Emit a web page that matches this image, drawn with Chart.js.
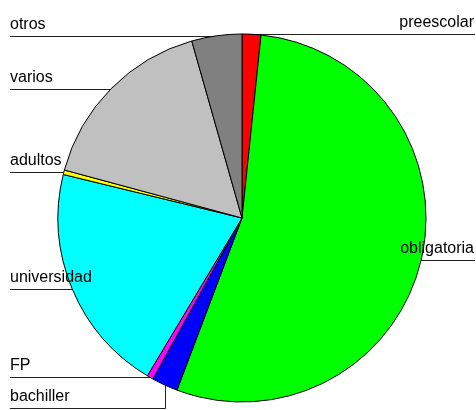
<!DOCTYPE html>
<html>
<head>
<meta charset="utf-8">
<script src="https://cdn.jsdelivr.net/npm/chart.js@4"></script>
<style>
  html, body { margin: 0; padding: 0; background: #fff; }
  canvas { display: block; }
</style>
</head>
<body>
<canvas id="pie" width="476" height="410"></canvas>
<script>
const categories = ['preescolar', 'obligatoria', 'bachiller', 'FP', 'universidad', 'adultos', 'varios', 'otros'];
const values = [1.65, 54.1, 2.3, 0.55, 20.2, 0.4, 16.4, 4.4];
const colors = ['#ff0000', '#00ff00', '#0000ff', '#ff00ff', '#00ffff', '#ffff00', '#c0c0c0', '#808080'];

// where each label sits: at the slice's mid angle, pushed down if it collides
function labelPositions(chart) {
    const arcs = chart.getDatasetMeta(0).data;
    const left = [], right = [];
    let cx = 0;
    arcs.forEach((arc, i) => {
        const p = arc.getProps(['x', 'y', 'startAngle', 'endAngle', 'outerRadius'], true);
        cx = p.x;
        const mid = (p.startAngle + p.endAngle) / 2;
        const ex = p.x + p.outerRadius * Math.cos(mid);
        const ey = p.y + p.outerRadius * Math.sin(mid);
        const item = { text: categories[i], ex: ex, ey: ey, y: ey };
        if (ex < p.x) left.push(item); else right.push(item);
    });
    [left, right].forEach(side => {
        side.sort((a, b) => a.ey - b.ey);
        for (let k = 1; k < side.length; k++) {
            if (side[k].y < side[k - 1].y + 31) side[k].y = side[k - 1].y + 31;
        }
    });
    return { left, right, cx };
}

// leader lines go under the pie, the text goes on top
const leaderLabels = {
    id: 'leaderLabels',
    beforeDatasetsDraw(chart) {
        const ctx = chart.ctx;
        const { left, right, cx } = labelPositions(chart);
        ctx.save();
        ctx.strokeStyle = '#222';
        ctx.lineWidth = 1;
        left.forEach(it => {
            const y = Math.round(it.y) + 0.5;
            const pushed = Math.abs(it.y - it.ey) > 1;
            const x = pushed ? Math.round(it.ex) + 0.5 : cx;
            ctx.beginPath();
            ctx.moveTo(10, y);
            ctx.lineTo(x, y);
            if (pushed) ctx.lineTo(x, it.ey - 4);
            ctx.stroke();
        });
        right.forEach(it => {
            const y = Math.round(it.y) + 0.5;
            const pushed = Math.abs(it.y - it.ey) > 1;
            const x = pushed ? Math.round(it.ex) + 0.5 : cx;
            ctx.beginPath();
            if (pushed) ctx.moveTo(x, it.ey - 4); else ctx.moveTo(x, y);
            ctx.lineTo(x, y);
            ctx.lineTo(475, y);
            ctx.stroke();
        });
        ctx.restore();
    },
    afterDatasetsDraw(chart) {
        const ctx = chart.ctx;
        const { left, right } = labelPositions(chart);
        ctx.save();
        ctx.fillStyle = '#000';
        ctx.font = '16px "Liberation Sans", Arial, sans-serif';
        ctx.textBaseline = 'alphabetic';
        ctx.textAlign = 'left';
        left.forEach(it => ctx.fillText(it.text, 10, Math.round(it.y) - 7));
        ctx.textAlign = 'right';
        right.forEach(it => ctx.fillText(it.text, 474, Math.round(it.y) - 7));
        ctx.restore();
    }
};

new Chart(document.getElementById('pie').getContext('2d'), {
    type: 'pie',
    data: {
        labels: categories,
        datasets: [{
            data: values,
            backgroundColor: colors,
            borderColor: '#000',
            borderWidth: 1,
        }]
    },
    options: {
        responsive: false,
        animation: false,
        layout: { padding: { left: 57.5, right: 49.5, top: 33.5, bottom: 7.5 } },
        plugins: {
            legend: { display: false },
            tooltip: { enabled: false },
        }
    },
    plugins: [leaderLabels]
});
</script>
</body>
</html>
